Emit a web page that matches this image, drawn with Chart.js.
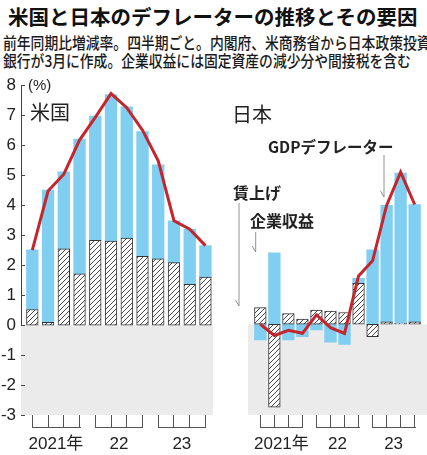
<!DOCTYPE html>
<html>
<head>
<meta charset="utf-8">
<script src="https://cdn.jsdelivr.net/npm/chart.js@4"></script>
<style>
  body { margin: 0; background: #fff; width: 427px; height: 455px; overflow: hidden; position: relative; font-family: 'Noto Sans CJK JP', sans-serif; color: #222; }
  .t { position: absolute; white-space: nowrap; line-height: 1; }
  #title { left: 8px; top: 6px; font-size: 20.5px; font-weight: bold; color: #111; }
  .sub { left: 3px; font-size: 16px; font-weight: 500; transform: scaleX(0.862); transform-origin: left top; color: #1a1a1a; }
  .panel { font-size: 20px; }
  .note { font-weight: bold; font-size: 16px; color: #222; }
  .box { position: absolute; top: 70px; width: 214px; height: 385px; }
  #ov { position: absolute; left: 0; top: 0; width: 427px; height: 455px; pointer-events: none; z-index: 5; }
</style>
</head>
<body>
<div class="t" id="title">米国と日本のデフレーターの推移とその要因</div>
<div class="t sub" style="top:34px">前年同期比増減率。四半期ごと。内閣府、米商務省から日本政策投資</div>
<div class="t sub" style="top:52px">銀行が3月に作成。企業収益には固定資産の減少分や間接税を含む</div>

<div class="box" style="left:0"><canvas id="us"></canvas></div>
<div class="box" style="left:213px"><canvas id="jp"></canvas></div>
<canvas id="ov" width="427" height="455"></canvas>

<div class="t" style="left:28px;top:77px;font-size:15px;font-family:'Liberation Sans',sans-serif">(%)</div>
<div class="t panel" style="left:30px;top:102px">米国</div>
<div class="t panel" style="left:232px;top:104px">日本</div>
<div class="t note" style="left:268px;top:139px;font-size:15.5px">GDPデフレーター</div>
<div class="t note" style="left:233px;top:184px">賃上げ</div>
<div class="t note" style="left:250px;top:212px">企業収益</div>

<script>
const quarters = ['21Q1', '21Q2', '21Q3', '21Q4', '22Q1', '22Q2', '22Q3', '22Q4', '23Q1', '23Q2', '23Q3', '23Q4'];
const yearCenters = [1.5, 5.5, 9.5];
const yearLabels = ['2021年', '22', '23'];
const yTicks = [-3, -2, -1, 0, 1, 2, 3, 4, 5, 6, 7, 8];

// 米国
const usWages = [0.52, 0.09, 2.54, 1.71, 2.83, 2.80, 2.90, 2.29, 2.21, 2.08, 1.36, 1.60];
const usProfits = [1.99, 4.41, 2.57, 4.49, 4.14, 4.89, 4.38, 4.16, 3.13, 1.40, 1.83, 1.05];
const usDeflator = [2.50, 4.47, 5.03, 6.17, 6.93, 7.72, 7.25, 6.50, 5.48, 3.48, 3.20, 2.65];

// 日本
const jpWages = [0.55, -2.74, 0.35, 0.17, 0.47, 0.44, 0.39, 1.35, -0.41, 0.08, 0.03, 0.08];
const jpProfits = [-0.52, 2.36, -0.52, -0.41, -0.19, -0.59, -0.67, 0.17, 2.46, 3.85, 4.97, 3.88];
const jpDeflator = [0.0, -0.37, -0.20, -0.30, 0.31, -0.11, -0.30, 1.60, 2.10, 3.93, 5.03, 3.96];

const tickFont = "'Liberation Sans', Roboto, 'Noto Sans CJK JP', sans-serif";

// quarter positions get a tick mark, year centres get the label
const xTickValues = quarters.map((q, i) => i).concat(yearCenters).sort((a, b) => a - b);

function hatch() {
  const c = document.createElement('canvas');
  c.width = 5; c.height = 5;
  const g = c.getContext('2d');
  g.fillStyle = '#fff';
  g.fillRect(0, 0, 5, 5);
  g.strokeStyle = '#333';
  g.lineWidth = 0.9;
  g.beginPath();
  g.moveTo(0, 5); g.lineTo(5, 0);
  g.moveTo(-1, 1); g.lineTo(1, -1);
  g.moveTo(4, 6); g.lineTo(6, 4);
  g.stroke();
  return g.createPattern(c, 'repeat');
}

const pts = arr => arr.map((v, i) => ({ x: i, y: v }));

// gray area below zero
const panelBg = {
  id: 'panelBg',
  beforeDatasetsDraw(chart) {
    const { ctx, chartArea: a, scales: { y } } = chart;
    const y0 = y.getPixelForValue(0);
    ctx.save();
    ctx.fillStyle = '#ebebeb';
    ctx.fillRect(a.left, y0, a.right - a.left, a.bottom - y0);
    ctx.restore();
  }
};

const arrows = {
  id: 'arrows',
  afterDraw(chart) {
    const ctx = chart.ctx;
    const list = [[171, 85, 127], [26, 133, 236], [42.7, 162, 182]];
    ctx.save();
    ctx.strokeStyle = '#777';
    ctx.lineWidth = 0.8;
    ctx.beginPath();
    list.forEach(([ax, y1, y2]) => {
      ctx.moveTo(ax, y1); ctx.lineTo(ax, y2);
      ctx.lineTo(ax - 3.5, y2 - 6);
    });
    ctx.stroke();
    ctx.restore();
  }
};

function makeChart(id, wages, profits, deflator, left) {
  return new Chart(document.getElementById(id), {
    data: {
      datasets: [
        {
          type: 'line', label: 'GDPデフレーター', data: pts(deflator), stack: 'line',
          borderColor: '#c4262e', borderWidth: 3, pointRadius: 0, tension: 0, order: 0
        },
        {
          type: 'bar', label: '賃上げ', data: pts(wages), backgroundColor: hatch(),
          borderColor: '#333', borderWidth: 1, borderSkipped: false, barThickness: 11.7, order: 1
        },
        {
          type: 'bar', label: '企業収益', data: pts(profits), backgroundColor: '#80cef0',
          borderWidth: 0, barThickness: 11.7, order: 2
        }
      ]
    },
    options: {
      responsive: true,
      maintainAspectRatio: false,
      animation: false,
      layout: { padding: { top: 12.3, left: left ? 0 : 14, right: left ? 1 : 0, bottom: 0 } },
      plugins: { legend: { display: false }, tooltip: { enabled: false } },
      scales: {
        x: {
          type: 'linear', stacked: true, offset: false,
          min: left ? -0.72 : -0.88, max: left ? 11.48 : 11.88,
          grid: {
            display: true, drawOnChartArea: false, drawTicks: true, tickLength: 13, offset: false,
            color: '#555',
            lineWidth: c => (c.tick && Number.isInteger(c.tick.value) ? 1 : 0)
          },
          border: { display: false },
          afterBuildTicks: s => { s.ticks = xTickValues.map(v => ({ value: v })); },
          afterFit: s => { s.height = 40; },
          ticks: {
            autoSkip: false, maxRotation: 0, padding: 6, color: '#222',
            font: { family: tickFont, size: 17 },
            callback: v => (yearCenters.indexOf(v) >= 0 ? yearLabels[yearCenters.indexOf(v)] : '')
          }
        },
        y: {
          display: left, stacked: true, min: -3, max: 8,
          grid: { display: false, drawTicks: false },
          border: { display: true, color: '#444', width: 1 },
          afterFit: s => { s.width = 21; },
          ticks: { stepSize: 1, padding: 5, color: '#222', font: { family: tickFont, size: 17 } }
        }
      }
    },
    plugins: left ? [panelBg] : [panelBg, arrows]
  });
}

const usChart = makeChart('us', usWages, usProfits, usDeflator, true);
const jpChart = makeChart('jp', jpWages, jpProfits, jpDeflator, false);

// bracket baselines and inner y ticks, placed from each chart's own scales
function drawMarks() {
  try {
    const ov = document.getElementById('ov');
    const ctx = ov.getContext('2d');
    ctx.clearRect(0, 0, ov.width, ov.height);
    ctx.strokeStyle = '#555';
    ctx.lineWidth = 1;
    [[usChart, 0], [jpChart, 213]].forEach(([ch, ox]) => {
      const x = ch.scales.x;
      const base = Math.round(70 + ch.chartArea.bottom) + 12.5;
      ctx.beginPath();
      for (let q = 0; q < 3; q++) {
        ctx.moveTo(Math.round(ox + x.getPixelForValue(q * 4)), base);
        ctx.lineTo(Math.round(ox + x.getPixelForValue(q * 4 + 3)) + 1, base);
      }
      ctx.stroke();
    });
    const ys = usChart.scales.y;
    const l = Math.round(usChart.chartArea.left);
    ctx.strokeStyle = '#444';
    ctx.beginPath();
    yTicks.forEach(v => {
      const py = Math.round(70 + ys.getPixelForValue(v)) + 0.5;
      ctx.moveTo(l, py); ctx.lineTo(l + 4, py);
    });
    ctx.stroke();
  } catch (e) { /* charts not laid out yet */ }
}
drawMarks();
requestAnimationFrame(drawMarks);
</script>
</body>
</html>
